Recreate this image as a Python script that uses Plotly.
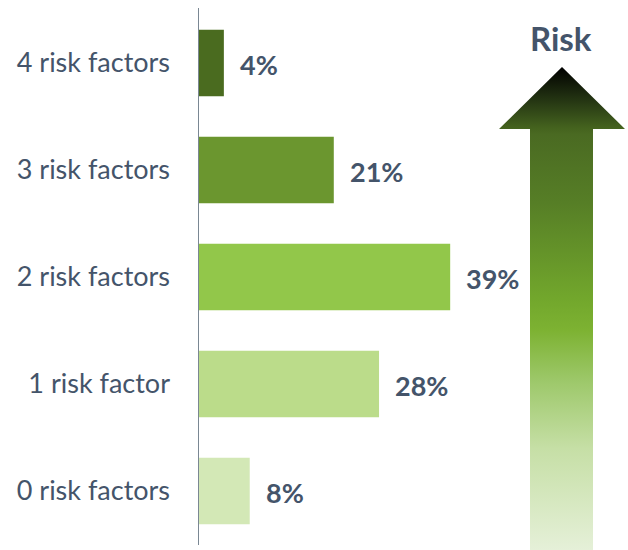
import plotly.graph_objects as go

# Share of people by number of risk factors
categories = ["0 risk factors", "1 risk factor", "2 risk factors", "3 risk factors", "4 risk factors"]
shares = [8, 28, 39, 21, 4]
bar_colors = ["#d3e8b6", "#bbdc8a", "#92c74a", "#6b962f", "#4a6b1f"]

TEXT_COLOR = "#44546a"
FONT = "Lato"

fig = go.Figure()

fig.add_trace(go.Bar(
    x=shares,
    y=categories,
    orientation="h",
    marker=dict(color=bar_colors, line=dict(width=0)),
    hoverinfo="skip",
    showlegend=False,
))

# Value labels to the right of each bar
for cat, val in zip(categories, shares):
    fig.add_annotation(
        x=val, y=cat, xref="x", yref="y",
        text=f"<b>{val}%</b>",
        showarrow=False, xanchor="left", yanchor="middle",
        xshift=14, yshift=-1,
        font=dict(family=FONT, size=27, color=TEXT_COLOR),
    )

# Upward "Risk" arrow with a vertical gradient, drawn on a pixel-like overlay axis
arrow_x = [530, 530, 499, 562, 625, 593, 593, 530]
arrow_y = [0, 421, 421, 483, 421, 421, 0, 0]
fig.add_trace(go.Scatter(
    x=arrow_x, y=arrow_y,
    xaxis="x2", yaxis="y2",
    mode="lines", line=dict(width=0),
    fill="toself",
    fillgradient=dict(
        type="vertical",
        colorscale=[
            [0.00, "#e5f0d8"],
            [0.21, "#c6dfa6"],
            [0.35, "#9dc86a"],
            [0.455, "#7db232"],
            [0.52, "#72a72c"],
            [0.72, "#567e26"],
            [0.86, "#4a6a22"],
            [0.875, "#44621e"],
            [0.93, "#253613"],
            [1.00, "#000000"],
        ],
    ),
    hoverinfo="skip",
    showlegend=False,
))

fig.add_annotation(
    x=561, y=512, xref="x2", yref="y2",
    text="<b>Risk</b>", showarrow=False,
    xanchor="center", yanchor="middle",
    font=dict(family=FONT, size=33, color=TEXT_COLOR),
)

# Vertical axis line
fig.add_shape(
    type="line", xref="x", yref="paper",
    x0=0, x1=0, y0=0.009, y1=1,
    line=dict(color="#7a8793", width=2),
    layer="above",
)

fig.update_layout(
    width=628, height=550,
    margin=dict(l=198, r=0, t=8, b=0),
    paper_bgcolor="white",
    plot_bgcolor="white",
    bargap=0.38,
    xaxis=dict(
        range=[0, 66.5], showgrid=False, zeroline=False,
        showticklabels=False, showline=False, fixedrange=True,
    ),
    yaxis=dict(
        range=[-0.551, 4.514], showgrid=False, zeroline=False,
        showline=False, ticks="", ticklabelstandoff=27,
        tickfont=dict(family=FONT, size=27, color=TEXT_COLOR),
        categoryorder="array", categoryarray=categories,
    ),
    xaxis2=dict(
        overlaying="x", anchor="y2", range=[198, 628],
        visible=False, fixedrange=True,
    ),
    yaxis2=dict(
        overlaying="y", anchor="x2", range=[0, 542],
        visible=False, fixedrange=True,
    ),
)

fig.write_html("out.html")
